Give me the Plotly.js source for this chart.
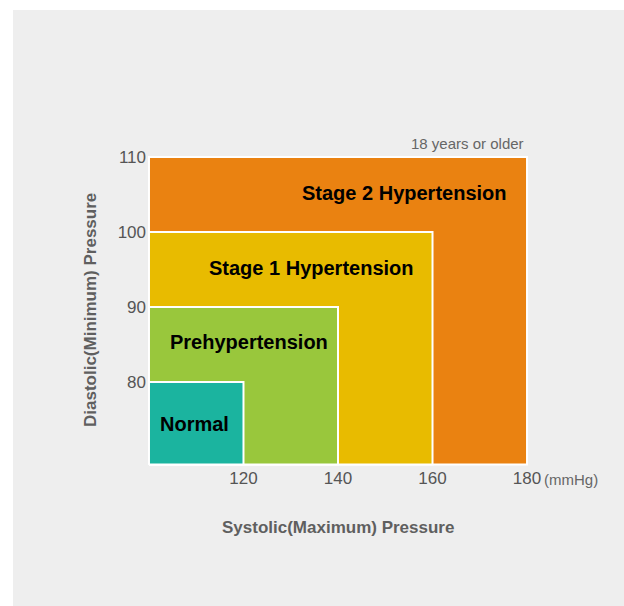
<!DOCTYPE html>
<html>
<head>
<meta charset="utf-8">
<script src="https://cdn.plot.ly/plotly-3.0.1.min.js"></script>
<style>
  html, body { margin: 0; padding: 0; background: #ffffff; }
  #chart { position: absolute; left: 13px; top: 10px; width: 611px; height: 596px; }
</style>
</head>
<body>
<div id="chart"></div>
<script>
// ---- data ----
const categories = ["Normal", "Prehypertension", "Stage 1 Hypertension", "Stage 2 Hypertension"];
const systolicUpper = [120, 140, 160, 180];   // mmHg
const diastolicUpper = [80, 90, 100, 110];    // mmHg
const systolicFloor = 100;
const diastolicFloor = 69;
const xTickVals = [120, 140, 160, 180];
const yTickVals = [80, 90, 100, 110];
const colors = ["#1bb49f", "#99c73c", "#e8bb00", "#ea8211"];

// label anchor positions (data coords) — layout only
const labelPos = [[109.7, 74.4], [121.2, 85.35], [134.3, 95.2], [154.1, 105.2]];

const font = "'Liberation Sans', Arial, Helvetica, sans-serif";

// draw largest first so smaller zones sit on top
const traces = [];
for (let i = categories.length - 1; i >= 0; i--) {
  const xs = systolicUpper[i], ys = diastolicUpper[i];
  traces.push({
    type: "scatter",
    mode: "lines",
    name: categories[i],
    x: [systolicFloor, xs, xs, systolicFloor, systolicFloor],
    y: [diastolicFloor, diastolicFloor, ys, ys, diastolicFloor],
    fill: "toself",
    fillcolor: colors[i],
    line: { color: "#ffffff", width: 2 },
    hoverinfo: "skip",
    showlegend: false
  });
}

const annotations = categories.map((c, i) => ({
  text: "<b>" + c + "</b>",
  x: labelPos[i][0], y: labelPos[i][1], xref: "x", yref: "y",
  showarrow: false, xanchor: "center", yanchor: "middle",
  font: { family: font, size: 20, color: "#000000" }
}));

annotations.push({
  text: "18 years or older", x: 180, xref: "x", y: 1, yref: "paper",
  xanchor: "right", yanchor: "middle", yshift: 12, xshift: -1, showarrow: false,
  font: { family: font, size: 15, color: "#666666" }
});
annotations.push({
  text: "(mmHg)", x: 180, xref: "x", y: 0, yref: "paper",
  xanchor: "left", yanchor: "middle", xshift: 15, yshift: -13, showarrow: false,
  font: { family: font, size: 15, color: "#666666" }
});
annotations.push({
  text: "<b>Systolic(Maximum) Pressure</b>", x: 140, xref: "x", y: 0, yref: "paper",
  xanchor: "center", yanchor: "middle", yshift: -61, showarrow: false,
  font: { family: font, size: 17, color: "#5f5f5f" }
});
annotations.push({
  text: "<b>Diastolic(Minimum) Pressure</b>", x: 0, xref: "paper", y: 89.6, yref: "y",
  xanchor: "center", yanchor: "middle", xshift: -57, textangle: -90, showarrow: false,
  font: { family: font, size: 17, color: "#5f5f5f" }
});

const layout = {
  width: 611, height: 596,
  margin: { l: 134, r: 95, t: 145, b: 140 },
  paper_bgcolor: "#eeeeee",
  plot_bgcolor: "rgba(0,0,0,0)",
  showlegend: false,
  hovermode: false,
  font: { family: font, color: "#555555" },
  xaxis: {
    range: [99.58, 180.42], tickvals: xTickVals, ticktext: xTickVals.map(String),
    showgrid: false, zeroline: false, showline: false, ticks: "",
    tickfont: { family: font, size: 17, color: "#555555" }, fixedrange: true
  },
  yaxis: {
    range: [68.8, 110.27], tickvals: yTickVals, ticktext: yTickVals.map(String),
    showgrid: false, zeroline: false, showline: false, ticks: "",
    tickfont: { family: font, size: 17, color: "#555555" }, fixedrange: true
  },
  annotations: annotations
};

Plotly.newPlot("chart", traces, layout, { displayModeBar: false, staticPlot: true });
</script>
</body>
</html>
